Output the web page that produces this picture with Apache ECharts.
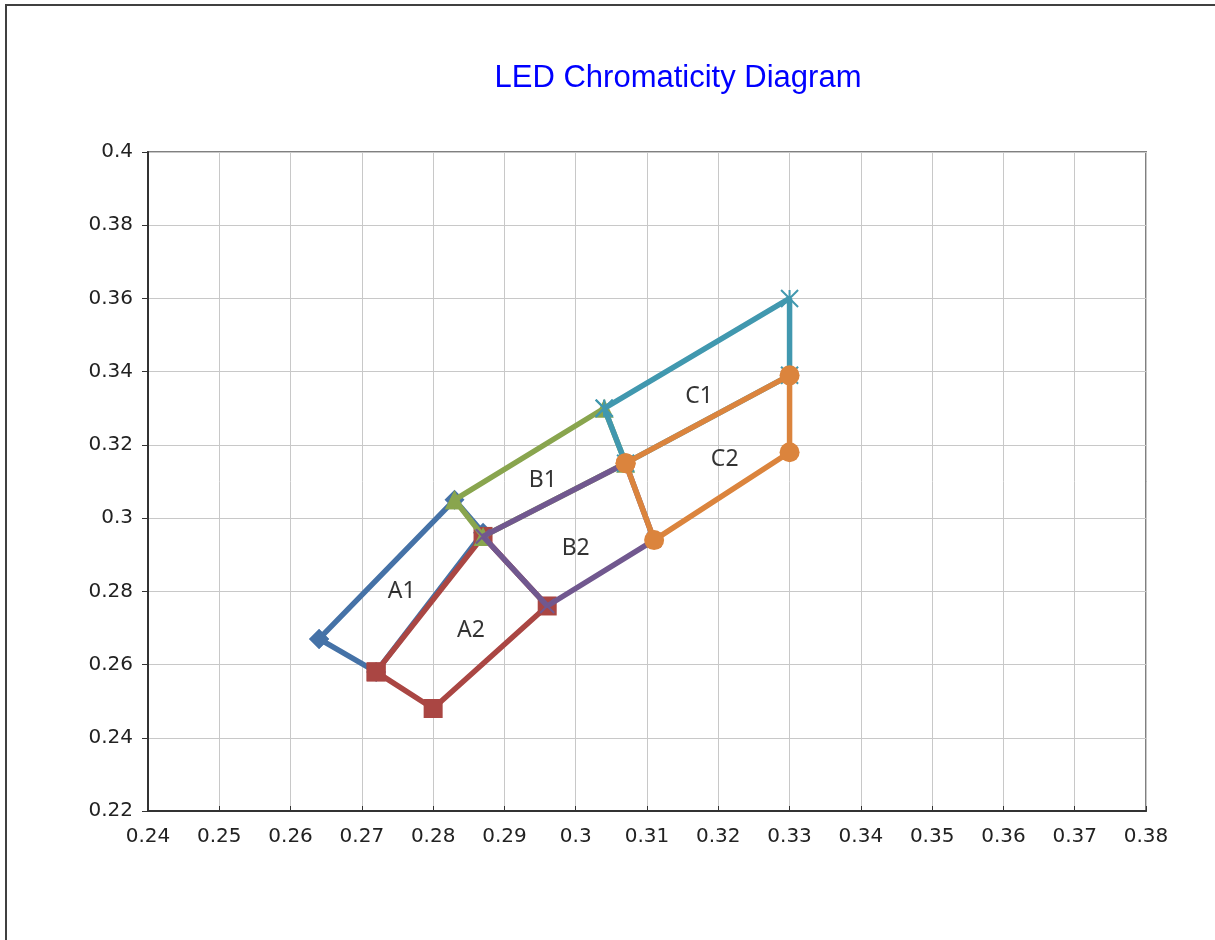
<!DOCTYPE html>
<html>
<head>
<meta charset="utf-8">
<script src="https://cdn.jsdelivr.net/npm/echarts@6/dist/echarts.min.js"></script>
<style>
  html, body { margin: 0; padding: 0; background: #fff; }
  #container { width: 1215px; height: 940px; }
</style>
</head>
<body>
<div id="container"></div>
<script>
var dom = document.getElementById("container");
var myChart = echarts.init(dom);
var option;

// each bin is a closed quadrilateral in (x, y) chromaticity coordinates
var binNames = ["A1", "A2", "B1", "B2", "C1", "C2"];
var A1 = [[0.264, 0.267], [0.283, 0.305], [0.287, 0.296], [0.272, 0.258], [0.264, 0.267]];
var A2 = [[0.272, 0.258], [0.280, 0.248], [0.296, 0.276], [0.287, 0.295], [0.272, 0.258]];
var B1 = [[0.283, 0.305], [0.304, 0.330], [0.307, 0.315], [0.287, 0.295], [0.283, 0.305]];
var B2 = [[0.287, 0.295], [0.307, 0.315], [0.311, 0.294], [0.296, 0.276], [0.287, 0.295]];
var C1 = [[0.304, 0.330], [0.330, 0.360], [0.330, 0.339], [0.307, 0.315], [0.304, 0.330]];
var C2 = [[0.307, 0.315], [0.330, 0.339], [0.330, 0.318], [0.311, 0.294], [0.307, 0.315]];

// where the bin names sit inside each region
var labelPoints = [
  [0.2756, 0.2801], [0.2853, 0.2692], [0.2954, 0.3104],
  [0.3000, 0.2918], [0.3173, 0.3331], [0.3209, 0.3159]
];

var colors = ["#4572A7", "#AA4643", "#89A54E", "#71588F", "#4198AF", "#DB843D"];
var symbols = [
  "diamond",
  "rect",
  "triangle",
  "path://M0,0L10,10M10,0L0,10",
  "path://M0,0L10,10M10,0L0,10M5,0L5,10",
  "circle"
];
var symbolSizes = [20, 19, 19, 14, 17, 20];
var binData = [A1, A2, B1, B2, C1, C2];

var series = [];
var i;
for (i = 0; i < binNames.length; i++) {
  var strokeOnly = symbols[i].indexOf("path://") === 0;
  series.push({
    name: binNames[i],
    type: "line",
    data: binData[i],
    showAllSymbol: true,
    symbol: symbols[i],
    symbolSize: symbolSizes[i],
    lineStyle: { color: colors[i], width: 5.5 },
    itemStyle: strokeOnly
      ? { color: "rgba(0,0,0,0)", borderColor: colors[i], borderWidth: 2 }
      : { color: colors[i] },
    z: 2 + i
  });
}

//Region names drawn as text on a scatter with no visible symbol
series.push({
  name: "labels",
  type: "scatter",
  symbolSize: 0,
  itemStyle: { color: "#000" },
  data: labelPoints.map(function (p, k) {
    return { name: binNames[k], value: p };
  }),
  label: {
    show: true,
    position: "inside",
    formatter: "{b}",
    color: "#000",
    fontSize: 23,
    fontFamily: "Noto Sans"
  },
  silent: true,
  z: 20
});

option = {
  animation: false,
  backgroundColor: "#fff",
  title: {
    text: "LED Chromaticity Diagram",
    left: 673,
    textAlign: "center",
    top: 58,
    textStyle: {
      color: "#0000FF",
      fontSize: 31,
      fontWeight: "normal",
      fontFamily: "Liberation Sans"
    }
  },
  graphic: [
    {
      type: "rect",
      shape: { x: 6, y: 5, width: 1240, height: 960 },
      style: { fill: "none", stroke: "#404040", lineWidth: 2 },
      silent: true
    }
  ],
  grid: {
    left: 148,
    right: 69,
    top: 152,
    bottom: 129,
    show: true,
    borderColor: "#808080",
    borderWidth: 2
  },
  xAxis: {
    type: "value",
    min: 0.24,
    max: 0.38,
    interval: 0.01,
    axisLine: { show: true, lineStyle: { color: "#333", width: 2 } },
    axisTick: { show: true, inside: true, length: 5, lineStyle: { color: "#333" } },
    axisLabel: {
      color: "#222",
      fontSize: 20,
      fontFamily: "DejaVu Sans",
      margin: 16
    },
    splitLine: { show: true, lineStyle: { color: "#C8C8C8", width: 1 } }
  },
  yAxis: {
    type: "value",
    min: 0.22,
    max: 0.4,
    interval: 0.02,
    axisLine: { show: true, lineStyle: { color: "#333", width: 2 } },
    axisTick: { show: true, length: 6, lineStyle: { color: "#333" } },
    axisLabel: {
      color: "#222",
      fontSize: 20,
      fontFamily: "DejaVu Sans",
      margin: 15
    },
    splitLine: { show: true, lineStyle: { color: "#C8C8C8", width: 1 } }
  },
  series: series
};

myChart.setOption(option);
</script>
</body>
</html>
